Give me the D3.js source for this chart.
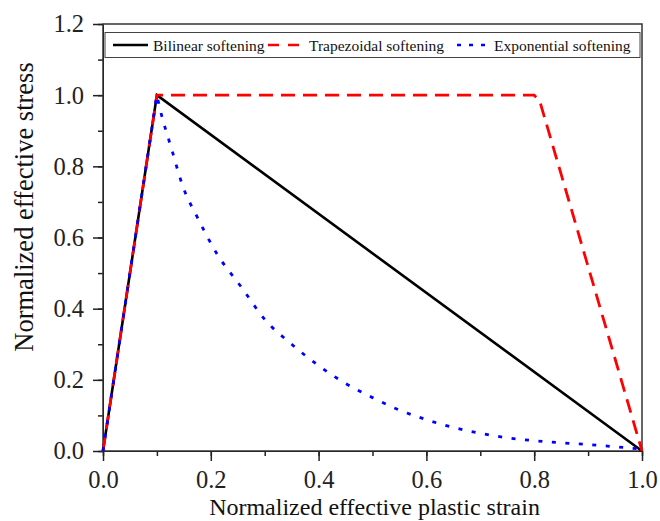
<!DOCTYPE html>
<html>
<head>
<meta charset="utf-8">
<script src="https://cdn.jsdelivr.net/npm/d3@7"></script>
<style>
  body { margin: 0; background: #fff; }
  svg { display: block; font-family: "Liberation Serif", "Times New Roman", serif; }
</style>
</head>
<body>
<script>
// data
var bilinearX = [0, 0.1, 1.0];
var bilinearY = [0, 1.0, 0];

var trapX = [0, 0.1, 0.8, 0.81, 1.0];
var trapY = [0, 1.0, 1.0, 0.985, 0];

var expX = [0, 0.1, 0.106, 0.127, 0.149, 0.174, 0.211, 0.257, 0.3, 0.35, 0.4, 0.45, 0.5, 0.55, 0.6, 0.65, 0.7, 0.75, 0.8, 0.85, 0.9, 0.95, 1.0];
var expY = [0, 1.0, 0.96, 0.85, 0.74, 0.66, 0.555, 0.46, 0.37, 0.3, 0.24, 0.19, 0.15, 0.115, 0.088, 0.066, 0.05, 0.037, 0.029, 0.023, 0.018, 0.012, 0.005];

var legendLabels = ["Bilinear softening", "Trapezoidal softening", "Exponential softening"];
var xTicks = [0, 0.2, 0.4, 0.6, 0.8, 1.0];
var yTicks = [0, 0.2, 0.4, 0.6, 0.8, 1.0, 1.2];

(function(){
var W = 660, H = 521;
var pLeft = 103, pRight = 642, pTop = 24, pBottom = 451;

var svg = d3.select('body').append('svg')
    .attr('width', W)
    .attr('height', H);

var x = d3.scaleLinear().domain([0, 1]).range([pLeft, pRight]);
var y = d3.scaleLinear().domain([0, 1.2]).range([pBottom, pTop]);

//minor ticks
var xMinor = d3.range(0, 1.001, 0.1);
var yMinor = d3.range(0, 1.201, 0.1);

svg.append('g')
    .attr('transform', 'translate(0,' + pBottom + ')')
    .call(d3.axisBottom(x).tickValues(xMinor).tickSize(5).tickFormat(''))
    .call(function(g){ g.select('.domain').remove(); });
svg.append('g')
    .attr('transform', 'translate(' + pLeft + ',0)')
    .call(d3.axisLeft(y).tickValues(yMinor).tickSize(5).tickFormat(''))
    .call(function(g){ g.select('.domain').remove(); });

//major axes
var xAxis = svg.append('g')
    .attr('transform', 'translate(0,' + pBottom + ')')
    .call(d3.axisBottom(x).tickValues(xTicks).tickSize(10).tickSizeOuter(0).tickPadding(10).tickFormat(d3.format('.1f')));
var yAxis = svg.append('g')
    .attr('transform', 'translate(' + pLeft + ',0)')
    .call(d3.axisLeft(y).tickValues(yTicks).tickSize(10).tickSizeOuter(0).tickPadding(9).tickFormat(d3.format('.1f')));

svg.selectAll('.tick line').attr('stroke', '#222').attr('stroke-width', 1.5);
svg.selectAll('.tick text')
    .attr('font-family', '"Liberation Serif", serif')
    .attr('font-size', 24.5)
    .attr('fill', '#222');

//frame
svg.append('rect')
    .attr('x', pLeft).attr('y', pTop)
    .attr('width', pRight - pLeft).attr('height', pBottom - pTop)
    .attr('fill', 'none')
    .attr('stroke', '#333')
    .attr('stroke-width', 1.5);

//lines
var line = d3.line().x(function(d){ return x(d[0]); }).y(function(d){ return y(d[1]); });
var lineSmooth = d3.line().curve(d3.curveMonotoneX).x(function(d){ return x(d[0]); }).y(function(d){ return y(d[1]); });

function pairs(a, b) { return a.map(function(v, i){ return [v, b[i]]; }); }

svg.append('path')
    .attr('d', line(pairs(bilinearX, bilinearY)))
    .attr('fill', 'none').attr('stroke', '#000').attr('stroke-width', 2.6);

svg.append('path')
    .attr('d', line(pairs(trapX, trapY)))
    .attr('fill', 'none').attr('stroke', '#ff0000').attr('stroke-width', 2.8)
    .attr('stroke-dasharray', '14,8');

// straight rise, then smooth decay, kept as one path so the dots run on
var expPts = pairs(expX, expY);
var expD = 'M' + x(expPts[0][0]) + ',' + y(expPts[0][1]) +
    lineSmooth(expPts.slice(1)).replace(/^M/, 'L');
svg.append('path')
    .attr('d', expD)
    .attr('fill', 'none').attr('stroke', '#0000ff').attr('stroke-width', 2.8)
    .attr('stroke-dasharray', '4,9.5');

//legend
var lg = svg.append('g');
lg.append('rect')
    .attr('x', 105).attr('y', 32.5)
    .attr('width', 535).attr('height', 25)
    .attr('fill', '#fff').attr('stroke', '#444').attr('stroke-width', 1);

var legendItems = [
    { x1: 113, x2: 148, tx: 153, color: '#000', dash: null },
    { x1: 268, x2: 302, tx: 309, color: '#ff0000', dash: '11,9' },
    { x1: 457, x2: 490, tx: 494, color: '#0000ff', dash: '4,8' }
];
legendItems.forEach(function(it, i){
    lg.append('line')
        .attr('x1', it.x1).attr('x2', it.x2)
        .attr('y1', 45).attr('y2', 45)
        .attr('stroke', it.color).attr('stroke-width', 2.6)
        .attr('stroke-dasharray', it.dash);
    lg.append('text')
        .attr('x', it.tx).attr('y', 50.5)
        .attr('font-size', 15.5)
        .attr('fill', '#111')
        .text(legendLabels[i]);
});

//axis titles
svg.append('text')
    .attr('x', (pLeft + pRight) / 2 + 2).attr('y', 515)
    .attr('text-anchor', 'middle')
    .attr('font-size', 24)
    .attr('fill', '#111')
    .text('Normalized effective plastic strain');

svg.append('text')
    .attr('transform', 'translate(33,' + 207 + ') rotate(-90)')
    .attr('text-anchor', 'middle')
    .attr('font-size', 26.5)
    .attr('fill', '#111')
    .text('Normalized effective stress');
})();
</script>
</body>
</html>
